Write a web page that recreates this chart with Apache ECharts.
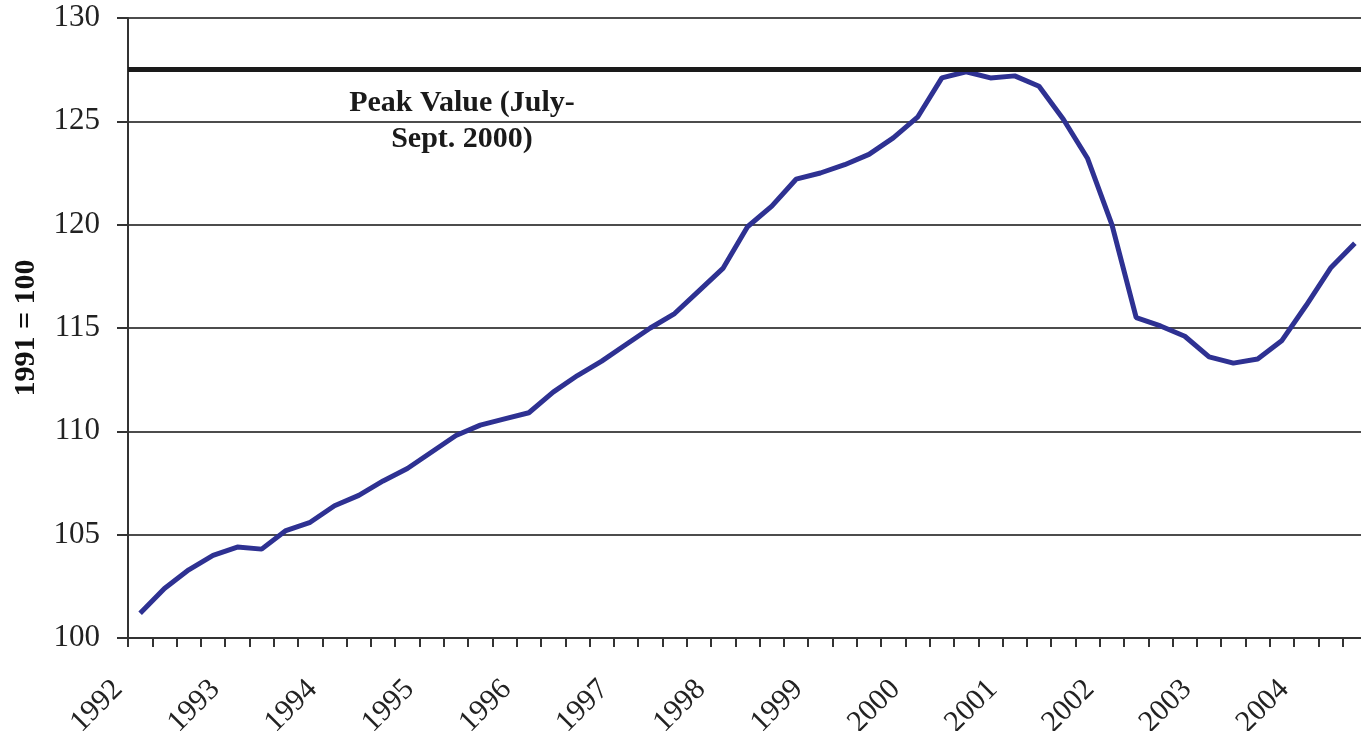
<!DOCTYPE html>
<html>
<head>
<meta charset="utf-8">
<title>Index, 1991 = 100</title>
<script src="https://cdn.jsdelivr.net/npm/echarts@6/dist/echarts.min.js"></script>
<style>
    html, body { margin: 0; padding: 0; background: #fff; }
    #chart { width: 1361px; height: 731px; }
</style>
</head>
<body>
<div id="chart"></div>
<script>
// quarterly values, 1992 Q1 .. 2004 Q3
const quarters = [
    '1992Q1', '1992Q2', '1992Q3', '1992Q4', '1993Q1', '1993Q2', '1993Q3', '1993Q4',
    '1994Q1', '1994Q2', '1994Q3', '1994Q4', '1995Q1', '1995Q2', '1995Q3', '1995Q4',
    '1996Q1', '1996Q2', '1996Q3', '1996Q4', '1997Q1', '1997Q2', '1997Q3', '1997Q4',
    '1998Q1', '1998Q2', '1998Q3', '1998Q4', '1999Q1', '1999Q2', '1999Q3', '1999Q4',
    '2000Q1', '2000Q2', '2000Q3', '2000Q4', '2001Q1', '2001Q2', '2001Q3', '2001Q4',
    '2002Q1', '2002Q2', '2002Q3', '2002Q4', '2003Q1', '2003Q2', '2003Q3', '2003Q4',
    '2004Q1', '2004Q2', '2004Q3'
];
const indexValues = [
    101.2, 102.4, 103.3, 104.0, 104.4, 104.3, 105.2, 105.6,
    106.4, 106.9, 107.6, 108.2, 109.0, 109.8, 110.3, 110.6,
    110.9, 111.9, 112.7, 113.4, 114.2, 115.0, 115.7, 116.8,
    117.9, 119.9, 120.9, 122.2, 122.5, 122.9, 123.4, 124.2,
    125.2, 127.1, 127.4, 127.1, 127.2, 126.7, 125.1, 123.2,
    120.0, 115.5, 115.1, 114.6, 113.6, 113.3, 113.5, 114.4,
    116.1, 117.9, 119.1
];
const yearLabels = ['1992', '1993', '1994', '1995', '1996', '1997', '1998',
                    '1999', '2000', '2001', '2002', '2003', '2004'];
const peakValue = 127.5;
const peakNote = 'Peak Value (July-\nSept. 2000)';

const serif = "'Liberation Serif', 'DejaVu Serif', serif";
const chart = echarts.init(document.getElementById('chart'));

chart.setOption({
    animation: false,
    backgroundColor: '#fff',
    // plot runs a little past the right edge, like the cropped original
    grid: { left: 128, right: -6, top: 18, bottom: 93, outerBoundsMode: 'none' },
    xAxis: [
        {
            // quarters: ticks on the boundaries, points in the middle
            type: 'category',
            data: quarters,
            boundaryGap: true,
            axisLine: { lineStyle: { color: '#333', width: 2 } },
            axisTick: { show: true, interval: 0, length: 9, lineStyle: { color: '#333', width: 2 } },
            axisLabel: { show: false },
            splitLine: { show: false }
        },
        {
            // year labels sit on the year boundaries
            type: 'value',
            position: 'bottom',
            min: 0,
            max: quarters.length,
            interval: 4,
            axisLine: { show: false },
            axisTick: { show: false },
            splitLine: { show: false },
            axisLabel: {
                rotate: 45,
                margin: 37,
                padding: [0, 14, 0, 0],
                fontFamily: serif,
                fontSize: 30,
                color: '#222',
                showMaxLabel: false,
                formatter: function (v) {
                    return v % 4 === 0 ? (yearLabels[v / 4] || '') : '';
                }
            }
        }
    ],
    yAxis: {
        type: 'value',
        min: 100,
        max: 130,
        interval: 5,
        name: '1991 = 100',
        nameLocation: 'middle',
        nameRotate: 90,
        nameGap: 87,
        nameTextStyle: { fontFamily: serif, fontSize: 30, fontWeight: 'bold', color: '#111' },
        axisLine: { show: true, lineStyle: { color: '#333', width: 2 } },
        axisTick: { show: true, length: 11, lineStyle: { color: '#333', width: 2 } },
        axisLabel: { margin: 28, fontFamily: serif, fontSize: 31, color: '#222' },
        splitLine: { lineStyle: { color: '#111', width: 1.5 } }
    },
    graphic: [{
        type: 'text',
        x: 462,
        y: 85,
        style: {
            text: peakNote,
            font: "bold 30px 'Liberation Serif', serif",
            textAlign: 'center',
            lineHeight: 36,
            fill: '#1a1a1a'
        }
    }],
    series: [{
        name: 'Index',
        type: 'line',
        xAxisIndex: 0,
        data: indexValues,
        symbol: 'none',
        lineStyle: { color: '#2e3192', width: 5 },
        markLine: {
            silent: true,
            symbol: 'none',
            label: { show: false },
            lineStyle: { color: '#1a1a1a', width: 5, type: 'solid' },
            data: [{ yAxis: peakValue }]
        }
    }]
});
</script>
</body>
</html>
